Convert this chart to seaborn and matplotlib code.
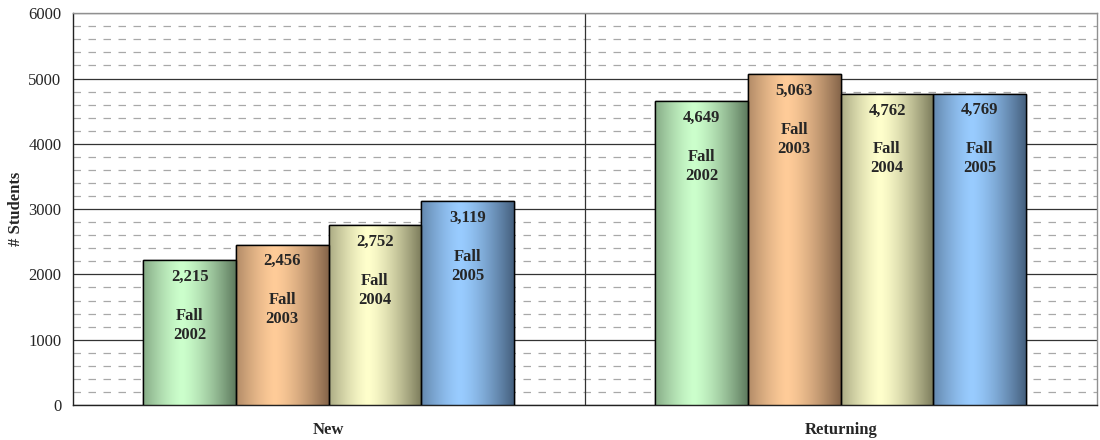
import numpy as np
import pandas as pd
import matplotlib
matplotlib.use("Agg")
import matplotlib.pyplot as plt
import seaborn as sb
from matplotlib.colors import to_rgb

# Data
groups = ["New", "Returning"]
terms = ["Fall 2002", "Fall 2003", "Fall 2004", "Fall 2005"]
new_students = [2215, 2456, 2752, 3119]
returning_students = [4649, 5063, 4762, 4769]

# light / dark shades for the cylinder-like gradient of each term
light_colors = ["#CCFFCC", "#FFCC99", "#FFFFCC", "#99CCFF"]
dark_colors = ["#5E7A5E", "#85654A", "#7A7A5A", "#45607E"]

df = pd.DataFrame({
    "Group": np.repeat(groups, len(terms)),
    "Term": terms * len(groups),
    "Students": new_students + returning_students,
})

sb.set_style("white")
plt.rcParams["font.family"] = ["Liberation Serif", "DejaVu Serif"]

fig = plt.figure(figsize=(11, 4.4), dpi=100)
ax = fig.add_axes([0.066, 0.0795, 0.931, 0.8905])

sb.barplot(data=df, x="Group", y="Students", hue="Term", order=groups,
           hue_order=terms, width=0.724, gap=0, legend=False,
           palette=light_colors, edgecolor="black", linewidth=1.0,
           saturation=1, ax=ax, zorder=3)

# gradient fill on each bar
t = np.linspace(0, 1, 200)
shade = 1 - np.clip(np.abs(t - 0.42) / 0.58, 0, 1) ** 1.4
for i, term in enumerate(terms):
    lc = np.array(to_rgb(light_colors[i]))
    dc = np.array(to_rgb(dark_colors[i]))
    grad = dc[None, :] + (lc - dc)[None, :] * shade[:, None]
    grad = grad[None, :, :]
    for j, grp in enumerate(groups):
        patch = ax.patches[i * len(groups) + j]
        x0, y0 = patch.get_x(), patch.get_y()
        w, h = patch.get_width(), patch.get_height()
        im = ax.imshow(grad, extent=[x0, x0 + w, y0, y0 + h], aspect="auto",
                       zorder=3.5, interpolation="bilinear")
        im.set_clip_path(patch)
        # outline on top of the gradient
        ax.add_patch(plt.Rectangle((x0, y0), w, h, fill=False,
                                   edgecolor="black", linewidth=1.0, zorder=4))
        xc = x0 + w / 2
        ax.annotate(f"{int(h):,}", (xc, h), xytext=(0, -6), textcoords="offset points",
                    ha="center", va="top", fontsize=12, fontweight="bold", zorder=5)
        ax.annotate(term.replace(" ", "\n"), (xc, h), xytext=(0, -34),
                    textcoords="offset points", ha="center", va="top",
                    fontsize=12, fontweight="bold", linespacing=1.25, zorder=5)

ax.set_xlim(-0.5, 1.5)
ax.set_ylim(0, 6000)
ax.set_yticks(np.arange(0, 6001, 1000))
ax.set_yticks(np.arange(0, 6001, 200), minor=True)
ax.yaxis.grid(True, which="major", color="#333333", linewidth=0.9, zorder=0)
ax.yaxis.grid(True, which="minor", color="#A8A8A8", linestyle=(0, (6, 6)), linewidth=0.9, zorder=0)
ax.set_axisbelow(True)
ax.axvline(0.5, color="#333333", linewidth=0.9, zorder=1)

ax.set_xticks([-0.5, 0.5, 1.5], minor=True)
ax.tick_params(axis="x", which="major", length=0, pad=12, labelsize=12)
ax.tick_params(axis="x", which="minor", length=5, width=0.9, direction="out", color="black")
ax.tick_params(axis="y", which="major", length=5, width=0.9, direction="out", labelsize=12, pad=3, color="black")
ax.tick_params(axis="y", which="minor", length=0)
for lab in ax.get_xticklabels():
    lab.set_fontweight("bold")

ax.set_xlabel("")
ax.set_ylabel("# Students", fontsize=12, fontweight="bold", labelpad=3)

for side in ["left", "bottom"]:
    ax.spines[side].set_color("#222222")
    ax.spines[side].set_linewidth(1.0)
for side in ["top", "right"]:
    ax.spines[side].set_visible(True)
    ax.spines[side].set_color("#909090")
    ax.spines[side].set_linewidth(1.0)

fig.savefig("out.png", dpi=100)
